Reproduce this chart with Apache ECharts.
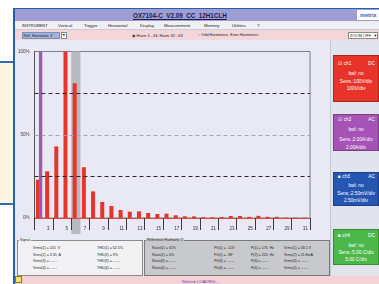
<!DOCTYPE html>
<html>
<head>
<meta charset="utf-8">
<script src="https://cdn.jsdelivr.net/npm/echarts@6/dist/echarts.min.js"></script>
<style>
  body { margin: 0; width: 379px; height: 284px; overflow: hidden; background: #fff;
    font-family: "Liberation Sans", "DejaVu Sans", sans-serif; position: relative; }
  .abs { position: absolute; }
  .t { position: absolute; white-space: nowrap; font-size: 3.6px; line-height: 5px; color: #222; }
  .m { position: absolute; white-space: nowrap; font-size: 4.3px; line-height: 5px; color: #222; top: 23px; }
  .chbox { position: absolute; left: 333px; width: 46px; color: #fff; font-size: 4.8px;
    border: 1px solid rgba(0,0,0,0.25); box-sizing: border-box; }
  .chbox div { position: absolute; width: 100%; text-align: center; white-space: nowrap; line-height: 6px; }
</style>
</head>
<body>
  <!-- left cream panel -->
  <div class="abs" style="left:0;top:61px;width:14px;height:140px;background:#fdf5e1;border-top:2px solid #2c6db4;border-bottom:2px solid #2c6db4;"></div>
  <!-- window -->
  <div class="abs" style="left:13px;top:8px;width:366px;height:276px;background:#e8e9f4;border-left:2px solid #2463ac;border-top:1px solid #2463ac;box-sizing:border-box;"></div>
  <!-- title bar -->
  <div class="abs" style="left:15px;top:9px;width:364px;height:12px;background:#9e9ed4;"></div>
  <div class="t" style="left:133px;top:11.5px;font-size:6.3px;line-height:7px;font-weight:bold;color:#1b1b55;text-decoration:underline;">OX7104-C&nbsp; V2.09&nbsp; CC&nbsp; 12H1CLH</div>
  <div class="abs" style="left:357px;top:10px;width:22px;height:10px;background:#fff;"></div>
  <div class="t" style="left:360px;top:12.5px;font-size:5.5px;font-weight:bold;color:#2a63b8;">metrix</div>
  <!-- menu bar -->
  <div class="abs" style="left:15px;top:21px;width:364px;height:9px;background:#eef0f3;border-bottom:1px solid #c9ccd6;box-sizing:border-box;"></div>
  <div class="m" style="left:22px;font-size:3.9px;">INSTRUMENT</div>
  <div class="m" style="left:58px;">Vertical</div>
  <div class="m" style="left:84px;">Trigger</div>
  <div class="m" style="left:108px;">Horizontal</div>
  <div class="m" style="left:140px;">Display</div>
  <div class="m" style="left:164px;">Measurement</div>
  <div class="m" style="left:204px;">Memory</div>
  <div class="m" style="left:232px;">Utilities</div>
  <div class="m" style="left:257px;">?</div>
  <!-- toolbar -->
  <div class="abs" style="left:15px;top:30px;width:364px;height:10px;background:#f4d5d9;"></div>
  <div class="abs" style="left:22px;top:31.5px;width:38px;height:7px;background:#9fb4d8;border:1px solid #7b8fb8;box-sizing:border-box;"></div>
  <div class="t" style="left:23.5px;top:32.5px;font-size:4px;">Ref. Harmonic 1</div>
  <div class="abs" style="left:61px;top:31.5px;width:6px;height:7px;background:#fff;border:1px solid #8a8a8a;box-sizing:border-box;"></div>
  <div class="t" style="left:62px;top:32.5px;font-size:3.6px;">&#9660;</div>
  <div class="t" style="left:132px;top:33px;font-size:4px;">&#9673; Harm 1...31</div>
  <div class="t" style="left:156px;top:33px;font-size:4px;">&#9675; Harm 32...63</div>
  <div class="t" style="left:198px;top:33px;font-size:3.8px;">&#9675; Odd Harmonics</div>
  <div class="t" style="left:227px;top:33px;font-size:3.8px;">&#9675; Even Harmonics</div>
  <div class="abs" style="left:348px;top:31.5px;width:30px;height:7px;background:#fff;border:1px solid #8a8a8a;box-sizing:border-box;"></div>
  <div class="t" style="left:350px;top:32.5px;font-size:4px;">ZOOM OFF &nbsp;&#9660;</div>

  <!-- right channel panel -->
  <div class="abs" style="left:330px;top:40px;width:49px;height:236px;background:#e1e4ed;border-left:1px solid #c4c8d4;box-sizing:border-box;"></div>
  <div class="chbox" style="top:55px;height:47px;background:#e8332b;">
    <div style="top:5px;text-align:left;left:4px;">&#9745; ch1</div><div style="top:5px;text-align:right;right:3px;width:auto;">DC</div>
    <div style="top:15px;">bwl: no</div><div style="top:23px;">Sens.:100V/div</div><div style="top:30px;">100V/div</div>
  </div>
  <div class="chbox" style="top:114px;height:37px;background:#a653b6;">
    <div style="top:2px;text-align:left;left:4px;">&#9745; ch2</div><div style="top:2px;text-align:right;right:3px;width:auto;">AC</div>
    <div style="top:12px;">bwl: no</div><div style="top:22px;">Sens.:2.00A/div</div><div style="top:30px;">2.00A/div</div>
  </div>
  <div class="chbox" style="top:172px;height:34px;background:#2755b2;">
    <div style="top:1px;text-align:left;left:4px;">&#9632; ch3</div><div style="top:1px;text-align:right;right:3px;width:auto;">AC</div>
    <div style="top:10px;">bwl: no</div><div style="top:18px;">Sens.:2.50mV/div</div><div style="top:25px;">2.50mV/div</div>
  </div>
  <div class="chbox" style="top:229px;height:36px;background:#4db84a;">
    <div style="top:3px;text-align:left;left:4px;">&#9632; ch4</div><div style="top:3px;text-align:right;right:3px;width:auto;">DC</div>
    <div style="top:13px;">bwl: no</div><div style="top:20px;">Sens.:5.00 C/div</div><div style="top:27px;">5.00 C/div</div>
  </div>

  <!-- harmonic chart -->
  <div id="chart" class="abs" style="left:15px;top:40px;width:315px;height:198px;"></div>

  <!-- signal box -->
  <div class="abs" style="left:17px;top:240px;width:126px;height:36px;background:#f2f2f4;border:1px solid #8c8c8c;box-sizing:border-box;"></div>
  <div class="t" style="left:19px;top:237.5px;background:#f2f2f4;padding:0 1px;">Signal</div>
  <div class="t" style="left:33px;top:246px;">Vrms(1) = 105&nbsp; V</div>
  <div class="t" style="left:33px;top:252.5px;">Vrms(2) = 3.35&nbsp; A</div>
  <div class="t" style="left:33px;top:259px;">Vrms(3) = ------</div>
  <div class="t" style="left:33px;top:265.5px;">Vrms(4) = ------</div>
  <div class="t" style="left:97px;top:246px;">THD(1) = 62.5%</div>
  <div class="t" style="left:97px;top:252.5px;">THD(2) = 9%</div>
  <div class="t" style="left:97px;top:259px;">THD(3) = ------</div>
  <div class="t" style="left:97px;top:265.5px;">THD(4) = ------</div>

  <!-- reference box -->
  <div class="abs" style="left:144px;top:240px;width:186px;height:36px;background:#c8c9cc;border:1px solid #7a7a7a;box-sizing:border-box;"></div>
  <div class="t" style="left:146px;top:237.5px;background:#c8c9cc;padding:0 1px;">Reference Harmonic 1</div>
  <div class="t" style="left:152px;top:246px;">Ratio(1) = 61%</div>
  <div class="t" style="left:152px;top:252.5px;">Ratio(2) = 0%</div>
  <div class="t" style="left:152px;top:259px;">Ratio(3) = ------</div>
  <div class="t" style="left:152px;top:265.5px;">Ratio(4) = ------</div>
  <div class="t" style="left:214px;top:246px;">Ph(1) = -113°</div>
  <div class="t" style="left:214px;top:252.5px;">Ph(2) = -38°</div>
  <div class="t" style="left:214px;top:259px;">Ph(3) = ------</div>
  <div class="t" style="left:214px;top:265.5px;">Ph(4) = ------</div>
  <div class="t" style="left:251px;top:246px;">F(1) = 175&nbsp; Hz</div>
  <div class="t" style="left:251px;top:252.5px;">F(2) = 220&nbsp; Hz</div>
  <div class="t" style="left:251px;top:259px;">F(3) = ------</div>
  <div class="t" style="left:251px;top:265.5px;">F(4) = ------</div>
  <div class="t" style="left:284px;top:246px;">Vrms(1) = 58.1 V</div>
  <div class="t" style="left:284px;top:252.5px;">Vrms(2) = 11.8mA</div>
  <div class="t" style="left:284px;top:259px;">Vrms(3) = ------</div>
  <div class="t" style="left:284px;top:265.5px;">Vrms(4) = ------</div>

  <!-- status bar -->
  <div class="abs" style="left:15px;top:276px;width:364px;height:8px;background:#f4d3d7;"></div>
  <div class="abs" style="left:15px;top:276px;width:7px;height:7px;background:#f3e46a;border:1px solid #8a7a20;box-sizing:border-box;"></div>
  <div class="t" style="left:182px;top:278.5px;font-size:4px;color:#5b3fa0;">Refresh LOADING...</div>

<script>
  // harmonic ranks on the x axis
  const harmonics = ['2','3','4','5','6','7','8','9','10','11','12','13','14','15','16',
    '17','18','19','20','21','22','23','24','25','26','27','28','29','30','31'];
  // ch1 harmonic levels, % of reference
  const ch1Values = [23, 28, 43, 100, 81, 30.5, 16, 9.6, 7.2, 4.8, 3.8, 4, 3, 2.4, 2.6,
    1.6, 1, 1, 0.5, 0.4, 0.6, 1.2, 1.2, 0.7, 1.3, 0.7, 0.7, 0.2, 0.2, 0.2];
  // ch2 bar (reference harmonic)
  const ch2Values = [100, '-', '-', '-', '-', '-', '-', '-', '-', '-', '-', '-', '-', '-', '-',
    '-', '-', '-', '-', '-', '-', '-', '-', '-', '-', '-', '-', '-', '-', '-'];
  const yTicks = [0, 50, 100];
  const guideLevels = [25, 50, 75];
  const cursorIndex = 4;

  const chart = echarts.init(document.getElementById('chart'), null, { renderer: 'canvas' });
  chart.setOption({
    animation: false,
    grid: {
      left: 17.5, right: 20, top: 11.5, bottom: 20,
      show: true, backgroundColor: '#e8e9f4', borderColor: '#7d7f88', borderWidth: 1
    },
    xAxis: [
      {
        type: 'category',
        data: harmonics,
        axisLine: { lineStyle: { color: '#e04a3c', width: 1 } },
        axisTick: {
          show: true, length: 12,
          interval: (i) => i % 2 === 0,
          lineStyle: { color: '#3a3a3a', width: 1 }
        },
        axisLabel: {
          interval: (i) => i % 2 === 1,
          fontSize: 4.5, color: '#333', margin: 8,
          fontFamily: 'Liberation Sans'
        }
      },
      { type: 'value', min: 0, max: harmonics.length, show: false }
    ],
    yAxis: {
      type: 'value', min: 0, max: 100, interval: 50,
      axisLine: { show: true, lineStyle: { color: '#555' } },
      axisTick: { show: false },
      splitLine: { show: false },
      axisLabel: {
        formatter: (v) => yTicks.includes(v) ? v + '%' : '',
        fontSize: 4.5, color: '#444', margin: 5, fontFamily: 'Liberation Sans'
      }
    },
    series: [
      {
        // selected harmonic cursor
        type: 'scatter', xAxisIndex: 1, data: [], silent: true,
        markArea: {
          silent: true,
          itemStyle: { color: '#b8bac2' },
          data: [[{ xAxis: cursorIndex }, { xAxis: cursorIndex + 1 }]]
        }
      },
      {
        name: 'ch1', type: 'bar', data: ch1Values,
        barWidth: 4, barGap: '-25%',
        itemStyle: { color: '#e8332b' },
        markLine: {
          silent: true, symbol: 'none', label: { show: false },
          lineStyle: { type: [4, 3], width: 1 },
          data: guideLevels.map((v) => ({
            yAxis: v,
            lineStyle: { color: v === 50 ? '#a3a5ad' : '#2b2b2b', type: [4, 3], width: 1 }
          }))
        }
      },
      {
        name: 'ch2', type: 'bar', data: ch2Values,
        barWidth: 3.3, barGap: '-25%',
        itemStyle: { color: '#a653b6' }
      }
    ]
  });

  // cursor continues below the baseline, over the tick area
  const cx0 = chart.convertToPixel({ xAxisIndex: 1 }, cursorIndex);
  const cx1 = chart.convertToPixel({ xAxisIndex: 1 }, cursorIndex + 1);
  const cy = chart.convertToPixel({ yAxisIndex: 0 }, 0);
  chart.setOption({
    graphic: [{
      type: 'rect', z: -1, silent: true,
      shape: { x: cx0, y: cy, width: cx1 - cx0, height: 16 },
      style: { fill: '#b8bac2' }
    }]
  });
</script>
</body>
</html>
